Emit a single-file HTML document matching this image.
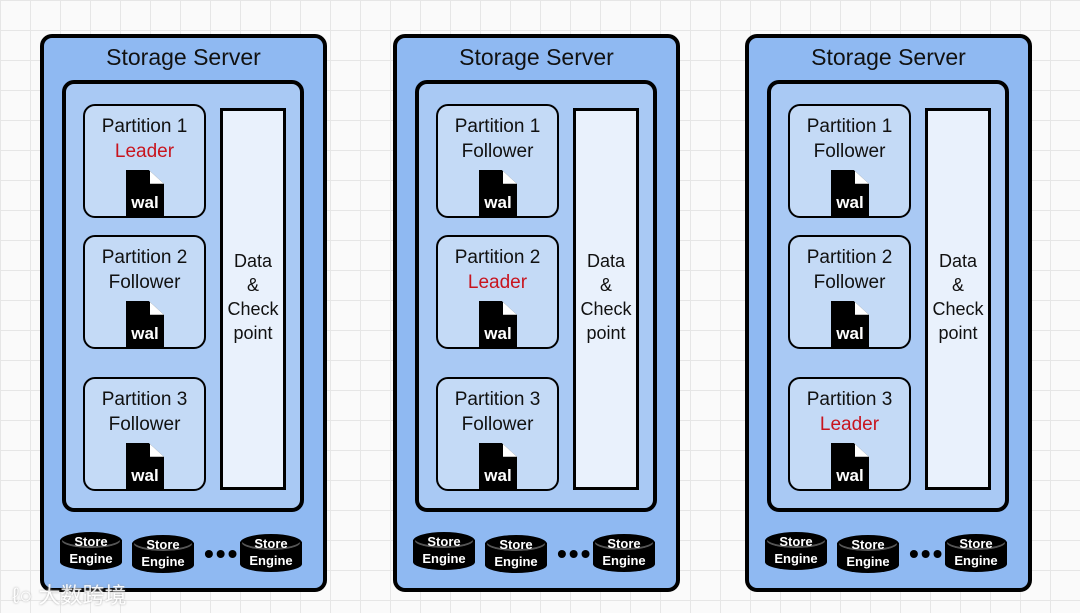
<!DOCTYPE html>
<html><head><meta charset="utf-8"><style>
body{margin:0;width:1080px;height:613px;overflow:hidden;position:relative;font-family:"Liberation Sans",sans-serif;
background-color:#fafafa;background-image:linear-gradient(#e6e6e6 1px,transparent 1px),linear-gradient(90deg,#e6e6e6 1px,transparent 1px);background-size:30px 30px;}
.s{position:absolute;top:34px;width:287px;height:558px;}
.o{position:absolute;left:0;top:0;width:279px;height:550px;border:4px solid #000;border-radius:12px;background:#8fb9f2;}
.t{position:absolute;left:0;width:287px;top:10px;text-align:center;font-size:23px;color:#111;}
.i{position:absolute;left:22px;top:46px;width:234px;height:424px;border:4px solid #000;border-radius:12px;background:#a9c9f4;}
.p{position:absolute;left:43px;width:119px;height:110px;border:2px solid #000;border-radius:12px;background:#c4daf6;text-align:center;font-size:19px;line-height:25px;color:#111;}
.p .a{padding-top:8px}
.r{color:#c8141e}
.w{position:absolute;left:41px;top:64px;width:38px;height:46px;background:#000;clip-path:polygon(0 0,60% 0,100% 30%,100% 100%,0 100%);}
.w:after{content:"";position:absolute;left:62%;top:0;width:40%;height:30%;background:#fff;clip-path:polygon(0 0,100% 100%,0 100%);}
.w span{position:absolute;left:0;right:0;bottom:4px;color:#fff;font-weight:bold;font-size:17px;line-height:18px;}
.d{position:absolute;left:180px;top:74px;width:60px;height:376px;border:3px solid #000;background:#e9f1fc;text-align:center;font-size:18px;line-height:24px;color:#111;}
.d div{margin-top:138px}
.c{position:absolute;top:500px;width:62px;height:38px;}
.c .b{position:absolute;left:0;top:8px;width:62px;height:30px;background:#000;border-radius:0 0 31px 31px/0 0 8px 8px;}
.c .tp{position:absolute;left:0;top:0;width:58px;height:14px;border:2px solid #000;background:#000;border-radius:50%;box-shadow:inset 0 -2px 0 #555;}
.c .x{position:absolute;left:0;right:0;text-align:center;color:#fff;font-size:13px;font-weight:bold;line-height:15px;}
.dots{position:absolute;left:164px;top:509px;font-size:28px;font-weight:bold;letter-spacing:2px;line-height:22px;}
.wm{position:absolute;left:12px;top:578px;color:#fff;font-size:22px;font-family:"Liberation Sans","Noto Sans CJK SC",sans-serif;text-shadow:0 0 2px #999;opacity:.9}
</style></head><body>

<div class="s" style="left:40px">
<div class="o"></div><div class="t">Storage Server</div><div class="i"></div>
<div class="p" style="top:70px"><div class="a">Partition 1</div><div class="r">Leader</div><div class="w"><span>wal</span></div></div>
<div class="p" style="top:201px"><div class="a">Partition 2</div><div>Follower</div><div class="w"><span>wal</span></div></div>
<div class="p" style="top:343px"><div class="a">Partition 3</div><div>Follower</div><div class="w"><span>wal</span></div></div>
<div class="d"><div>Data<br>&amp;<br>Check<br>point</div></div>
<div class="c" style="left:20px;top:498px"><div class="b"></div><div class="tp"></div><div class="x" style="top:2px">Store</div><div class="x" style="top:19px">Engine</div></div>
<div class="c" style="left:92px;top:501px"><div class="b"></div><div class="tp"></div><div class="x" style="top:2px">Store</div><div class="x" style="top:19px">Engine</div></div>
<div class="dots">•••</div>
<div class="c" style="left:200px;top:500px"><div class="b"></div><div class="tp"></div><div class="x" style="top:2px">Store</div><div class="x" style="top:19px">Engine</div></div>
</div>

<div class="s" style="left:393px">
<div class="o"></div><div class="t">Storage Server</div><div class="i"></div>
<div class="p" style="top:70px"><div class="a">Partition 1</div><div>Follower</div><div class="w"><span>wal</span></div></div>
<div class="p" style="top:201px"><div class="a">Partition 2</div><div class="r">Leader</div><div class="w"><span>wal</span></div></div>
<div class="p" style="top:343px"><div class="a">Partition 3</div><div>Follower</div><div class="w"><span>wal</span></div></div>
<div class="d"><div>Data<br>&amp;<br>Check<br>point</div></div>
<div class="c" style="left:20px;top:498px"><div class="b"></div><div class="tp"></div><div class="x" style="top:2px">Store</div><div class="x" style="top:19px">Engine</div></div>
<div class="c" style="left:92px;top:501px"><div class="b"></div><div class="tp"></div><div class="x" style="top:2px">Store</div><div class="x" style="top:19px">Engine</div></div>
<div class="dots">•••</div>
<div class="c" style="left:200px;top:500px"><div class="b"></div><div class="tp"></div><div class="x" style="top:2px">Store</div><div class="x" style="top:19px">Engine</div></div>
</div>

<div class="s" style="left:745px">
<div class="o"></div><div class="t">Storage Server</div><div class="i"></div>
<div class="p" style="top:70px"><div class="a">Partition 1</div><div>Follower</div><div class="w"><span>wal</span></div></div>
<div class="p" style="top:201px"><div class="a">Partition 2</div><div>Follower</div><div class="w"><span>wal</span></div></div>
<div class="p" style="top:343px"><div class="a">Partition 3</div><div class="r">Leader</div><div class="w"><span>wal</span></div></div>
<div class="d"><div>Data<br>&amp;<br>Check<br>point</div></div>
<div class="c" style="left:20px;top:498px"><div class="b"></div><div class="tp"></div><div class="x" style="top:2px">Store</div><div class="x" style="top:19px">Engine</div></div>
<div class="c" style="left:92px;top:501px"><div class="b"></div><div class="tp"></div><div class="x" style="top:2px">Store</div><div class="x" style="top:19px">Engine</div></div>
<div class="dots">•••</div>
<div class="c" style="left:200px;top:500px"><div class="b"></div><div class="tp"></div><div class="x" style="top:2px">Store</div><div class="x" style="top:19px">Engine</div></div>
</div>

<div class="wm">ℓ○ 大数跨境</div>
</body></html>
